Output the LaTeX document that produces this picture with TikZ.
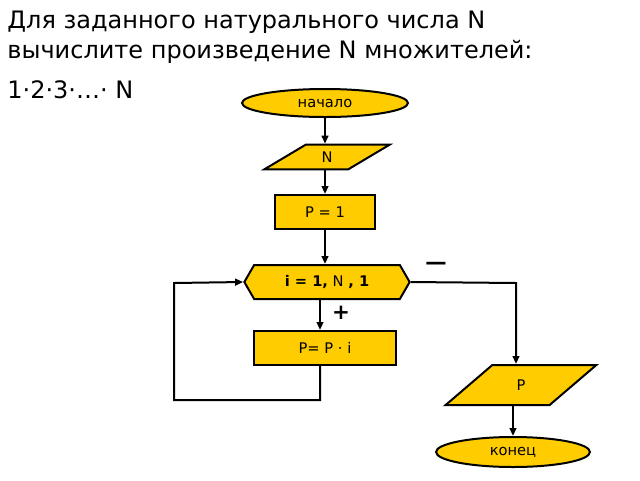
\documentclass[tikz,border=0pt]{standalone}
\usepackage{fontspec}
\setmainfont{DejaVu Sans}
\usetikzlibrary{shapes.geometric,shapes.symbols,arrows.meta}
\tikzset{every picture/.style={line width=1.5pt}}
\definecolor{blockfill}{RGB}{255,204,0}
\tikzset{
  blk/.style={draw, fill=blockfill, font=\fontsize{11}{13}\selectfont, inner sep=0pt},
  term/.style={blk, ellipse},
  io/.style={blk, trapezium, trapezium stretches=true},
  proc/.style={blk, rectangle},
  loopblk/.style={blk, signal, signal to=east and west, signal pointer angle=120},
  arr/.style={-{Triangle[length=6pt,width=5pt]}}
}

\begin{document}
\begin{tikzpicture}[x=0.75pt,y=0.75pt,yscale=-1,xscale=1]
\useasboundingbox (0,0) rectangle (640,480);

% Text Node
\node [anchor=west, font=\fontsize{18}{21}\selectfont] (t1) at (2,22) {Для заданного натурального числа N};
\node [anchor=west, font=\fontsize{18}{21}\selectfont] (t2) at (2,52) {вычислите произведение N множителей:};
\node [anchor=west, font=\fontsize{18}{21}\selectfont] (t3) at (2,90) {1·2·3·…· N};

% Blocks
\node [term, minimum width=124.5pt, minimum height=21pt] (start) at (325,103) {начало};
\node [io, trapezium left angle=45, trapezium right angle=135, minimum width=94pt, minimum height=18.5pt] (inN) at (327,157) {N};
\node [proc, minimum width=75pt, minimum height=25.5pt] (init) at (325,212) {P = 1};
\node [loopblk, minimum width=124pt, minimum height=25.5pt] (cyc) at (327,282) {\textbf{i = 1,} N \textbf{, 1}};
\node [proc, minimum width=106pt, minimum height=25.5pt] (body) at (325,348) {P= P · i};
\node [io, trapezium left angle=56, trapezium right angle=124, minimum width=113pt, minimum height=30pt] (outP) at (521,385) {P};
\node [term, minimum width=115.5pt, minimum height=22.5pt] (stop) at (513,452) {конец};

% Loop helpers
\coordinate (lb) at (320,400);
\coordinate (ll) at (174,400);
\coordinate (lt) at (174,283);
\coordinate (rt) at (516,283);

% Connectors
\draw [arr] (start.south) -- (start.south |- inN.north);
\draw [arr] (inN.south -| init) -- (init.north);
\draw [arr] (init.south) -- (init |- cyc.north);
\draw [arr] (cyc.south -| lb) -- (body.north -| lb);
\draw [arr] (body.south -| lb) -- (lb) -- (ll) -- (lt) -- (cyc.west);
\draw [arr] (cyc.east) -- (rt) -- (rt |- outP.north);
\draw [arr] (outP.south -| stop) -- (stop);

% Labels
\node [font=\fontsize{16}{18}\selectfont\bfseries] (minus) at (436,266) {—};
\node [font=\fontsize{16}{18}\selectfont\bfseries] (plus) at (341,313) {+};

\end{tikzpicture}
\end{document}
